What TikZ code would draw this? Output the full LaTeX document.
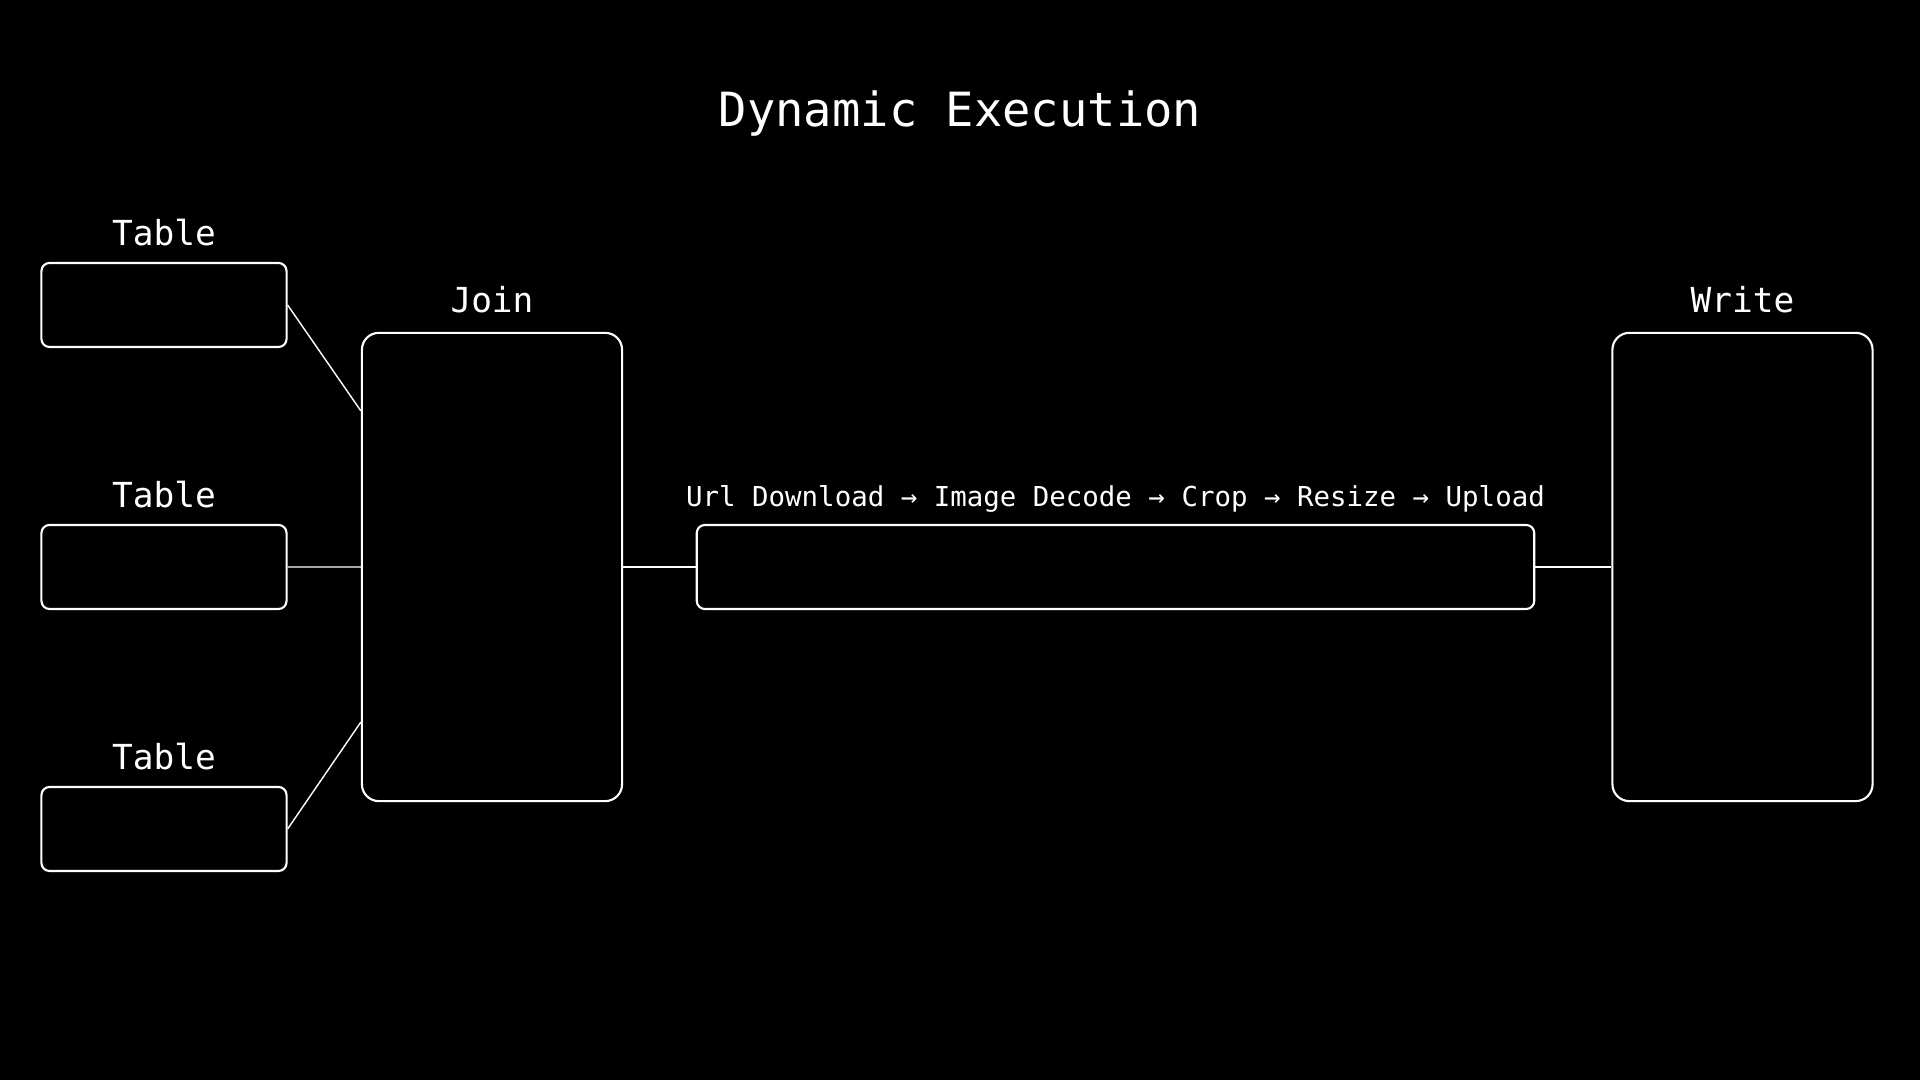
\documentclass[tikz,border=0pt]{standalone}
\usepackage{fontspec}
\setmonofont{DejaVu Sans Mono}
\usetikzlibrary{positioning}
\tikzset{
	every node/.style = {text=white, font=\ttfamily},
	box/.style = {draw=white, line width=0.6pt, rounded corners=2.3pt, inner sep=0pt},
	small box/.style = {box, minimum width=2.45cm, minimum height=0.84cm},
	tall box/.style = {box, rounded corners=4.8pt, minimum width=2.6cm, minimum height=4.68cm},
	lbl/.style = {font=\ttfamily\fontsize{9.8}{12}\selectfont, inner sep=0pt},
	wire/.style = {draw=white, line width=0.4pt}
}

\begin{document}
\begin{tikzpicture}[x=0.01cm, y=-0.01cm]
		% background
		\fill[black] (0,0) rectangle (1920,1080);
		\useasboundingbox (0,0) rectangle (1920,1080);
		\node[font=\ttfamily\fontsize{13.4}{16}\selectfont, anchor=base, inner sep=0pt] (title) at (960,127) {Dynamic Execution};
		% tables
		\node[small box] (t1) at (164,305) {};
		\node[small box] (t2) at (164,567) {};
		\node[small box] (t3) at (164,829) {};
		\node[lbl, above=1.6mm of t1, anchor=base] (t1lbl) {Table};
		\node[lbl, above=1.6mm of t2, anchor=base] (t2lbl) {Table};
		\node[lbl, above=1.6mm of t3, anchor=base] (t3lbl) {Table};
		% join
		\node[tall box] (join) at (492,567) {};
		\node[lbl, above=1.9mm of join, anchor=base] (joinlbl) {Join};
		% pipeline
		\node[box, minimum width=8.37cm, minimum height=0.84cm] (pipe) at (1115.5,567) {};
		\node[lbl, font=\ttfamily\fontsize{7.8}{10}\selectfont, above=1.7mm of pipe, anchor=base] (pipelbl)
		      {Url Download → Image Decode → Crop → Resize → Upload};
		% write
		\node[tall box] (write) at (1742.5,567) {};
		\node[lbl, above=1.9mm of write, anchor=base] (writelbl) {Write};
		% wires
		\coordinate (j1) at ([yshift=1.56cm]join.west);
		\coordinate (j3) at ([yshift=-1.55cm]join.west);
		\draw[wire] (t1.east) -- (j1)
		      (t2.east) -- (join.west)
		      (t3.east) -- (j3);
		\draw[wire] (join.east) -- (pipe.west)
		      (pipe.east) -- (write.west);
	\end{tikzpicture}
\end{document}
